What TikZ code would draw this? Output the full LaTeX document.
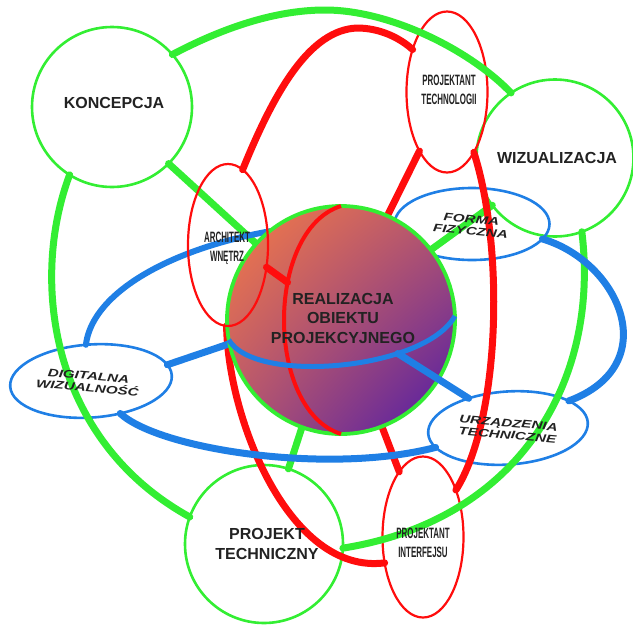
\documentclass[tikz,border=0pt]{standalone}
\usepackage{fontspec}
\setmainfont{Liberation Sans}
\usetikzlibrary{shapes.geometric,shadings}

\definecolor{lgreen}{HTML}{33EE33}
\definecolor{lred}{HTML}{FF0D0D}
\definecolor{lblue}{HTML}{1F7FE5}
\definecolor{txt}{HTML}{222222}
\definecolor{sorange}{HTML}{F77C45}
\definecolor{smauve}{HTML}{B5566F}
\definecolor{spurple}{HTML}{4A18AA}

% condensed and extended lettering
\newcommand{\narrowtxt}[1]{\scalebox{0.53}[1]{#1}}
\newcommand{\widetxt}[1]{\scalebox{1.38}[1]{#1}}

\tikzset{
  ring/.style={circle, draw=lgreen, line width=2.6pt, minimum size=#1, inner sep=0pt, outer sep=0pt},
  redoval/.style={ellipse, draw=lred, line width=2.2pt, minimum width=81pt, minimum height=161pt, inner sep=0pt, outer sep=0pt},
  blueoval/.style={ellipse, draw=lblue, line width=2.6pt, inner sep=0pt, outer sep=0pt},
  anchorshape/.style={inner sep=0pt, outer sep=0pt},
  gline/.style={draw=lgreen, line width=7pt, line cap=round},
  rline/.style={draw=lred, line width=7pt, line cap=round},
  bline/.style={draw=lblue, line width=7pt, line cap=round},
  meridian/.style={draw=lred, line width=4pt},
  equator/.style={draw=lblue, line width=5pt},
  bigtext/.style={font=\fontsize{16}{19.5}\selectfont\bfseries, text=txt, align=center, inner sep=0pt},
  narrowtext/.style={font=\fontsize{15}{19}\selectfont\bfseries, text=txt, align=center, inner sep=0pt},
  widetext/.style={font=\fontsize{11}{12}\selectfont\bfseries\itshape, text=txt, align=center, inner sep=0pt, rotate=-5},
}

\begin{document}
\begin{tikzpicture}[x=1pt, y=-1pt]
\useasboundingbox (0,0) rectangle (633,625);

% ---- outlined nodes ----
\node[ring=160pt] (konc) at (112,107) {};
\node[ring=157pt] (wiz) at (555,158) {};
\node[ring=158pt] (ptk) at (264,544) {};
\node[redoval] (ptech) at (447,92) {};
\node[redoval] (pint) at (423,537) {};
\node[blueoval, minimum width=155pt, minimum height=72pt] (forma) at (472,224) {};
\node[blueoval, minimum width=162pt, minimum height=73pt, rotate=4] (digit) at (91,381) {};
\node[blueoval, minimum width=160pt, minimum height=73pt, rotate=4] (urz) at (508,428) {};
% sphere and interior designer oval are painted later, on top
\node[anchorshape, circle, minimum size=228pt] (sphere) at (341,320) {};
\node[anchorshape, ellipse, minimum width=80pt, minimum height=162pt] (arch) at (228,245) {};

% ---- green links ----
\draw[gline] (konc.41) .. controls (215,32) and (270,10) .. (325,10)
                       .. controls (390,10) and (470,50) .. (wiz.124);
\draw[gline] (konc.-45) -- (sphere.138);
\draw[gline] (konc.238) .. controls (30,280) and (50,440) .. (ptk.160);
\draw[gline] (sphere.38) -- (wiz.217);
\draw[gline] (wiz.-70) .. controls (600,380) and (520,520) .. (ptk.-3);
\draw[gline] (sphere.-110) -- (ptk.72);

% ---- red links ----
\draw[rline] (arch.79) .. controls (275,90) and (310,30) .. (357,28)
                       .. controls (380,28) and (400,38) .. (ptech.129);
\draw[rline] (ptech.245) -- (sphere.66);
\draw[rline] (ptech.-66.6) .. controls (505,250) and (500,420) .. (pint.55);
\draw[rline] (sphere.-69) -- (pint.110);
\draw[rline] (arch.-91) .. controls (228,420) and (290,575) .. (pint.214);

% ---- blue links ----
\draw[bline, line width=6pt] (digit.94) .. controls (95,270) and (250,215) .. (forma.west);
\draw[bline] (digit.8.5) -- (sphere.192.7);
\draw[bline] (digit.-52.9) .. controls (160,450) and (330,475) .. (urz.191.2);
\draw[bline] (forma.-12) .. controls (620,262) and (665,365) .. (urz.20);

% ---- sphere ----
\shade[upper left=sorange, upper right=smauve, lower left=smauve, lower right=spurple]
  (sphere.center) circle[radius=114pt];
\draw[draw=lgreen, line width=3.8pt] (sphere.center) circle[radius=114pt];

% meridian and equator on the sphere
\draw[meridian] (sphere.north) .. controls (265,230) and (265,410) .. (sphere.south)
  coordinate[pos=0.375] (merpt);
\draw[equator] (sphere.190) .. controls (255,385) and (425,370) .. (sphere.2)
  coordinate[pos=0.7] (eqpt);
\draw[rline] (arch.-30.7) -- (merpt);
\draw[bline] (eqpt) -- (urz.139);

% interior designer oval over the sphere
\draw[draw=lred, line width=2.2pt] (arch.center) ellipse[x radius=40pt, y radius=81pt];

% ---- labels ----
\node[bigtext] (tkonc) at (114,103) {KONCEPCJA};
\node[bigtext] (twiz) at (557,158) {WIZUALIZACJA};
\node[bigtext] (tsph) at (343,318) {REALIZACJA\\OBIEKTU\\PROJEKCYJNEGO};
\node[bigtext] (tptk) at (267,544) {PROJEKT\\TECHNICZNY};
\node[narrowtext] (tptech) at (449,90) {\narrowtxt{PROJEKTANT}\\\narrowtxt{TECHNOLOGII}};
\node[narrowtext] (tarch) at (227,248) {\narrowtxt{ARCHITEKT}\\\narrowtxt{WNĘTRZ}};
\node[narrowtext] (tpint) at (423,543) {\narrowtxt{PROJEKTANT}\\\narrowtxt{INTERFEJSU}};
\node[widetext] (tforma) at (471,225) {\widetxt{FORMA}\\\widetxt{FIZYCZNA}};
\node[widetext] (tdigit) at (88,382) {\widetxt{DIGITALNA}\\\widetxt{WIZUALNOŚĆ}};
\node[widetext] (turz) at (508,429) {\widetxt{URZĄDZENIA}\\\widetxt{TECHNICZNE}};
\end{tikzpicture}
\end{document}
